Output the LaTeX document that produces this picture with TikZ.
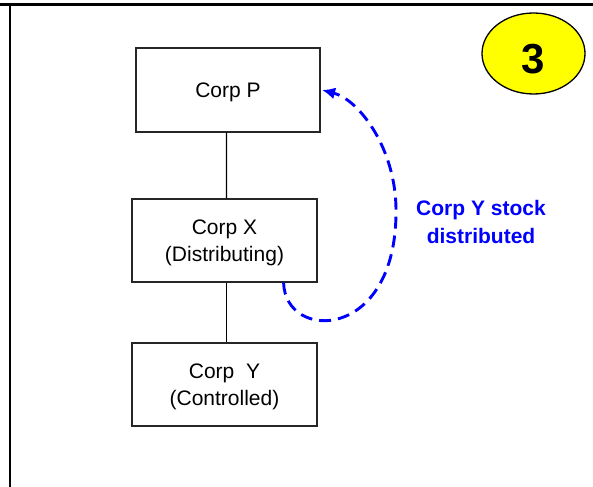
\documentclass[tikz,border=0pt]{standalone}
\usepackage{fontspec}
\setmainfont{Liberation Sans}
\usetikzlibrary{arrows.meta,shapes.geometric}
\definecolor{arrowblue}{RGB}{0,0,255}
\definecolor{badgeyellow}{RGB}{255,255,0}
\tikzset{
  corpbox/.style={draw=black!85, line width=1.2bp, inner sep=0pt, align=center,
    text depth=0pt, font=\fontsize{21bp}{26.5bp}\selectfont},
  link/.style={draw=black, line width=1.1bp},
  flow/.style={draw=arrowblue, line width=2.9bp, dash pattern=on 12bp off 7bp,
    -{Latex[length=13bp,width=12bp]}},
  flowlabel/.style={text=arrowblue, align=center,
    font=\fontsize{21bp}{27.5bp}\selectfont\bfseries},
  frame/.style={draw=black, line width=2.4bp},
  badge/.style={ellipse, draw=black, line width=1.3bp, fill=badgeyellow,
    minimum width=103bp, minimum height=81bp, inner sep=0pt},
  badgenum/.style={font=\fontsize{42bp}{42bp}\selectfont\bfseries, inner sep=0pt}
}
\begin{document}
\begin{tikzpicture}[x=1bp,y=-1bp]
\useasboundingbox (0,0) rectangle (593,487);
% frame
\coordinate (ftl) at (0,4.5);
\coordinate (ftr) at (593,4.5);
\coordinate (fl) at (10,4.5);
\coordinate (fb) at (10,487);
\draw[frame] (ftl) -- (ftr);
\draw[frame] (fl) -- (fb);
% boxes
\node[corpbox, minimum width=184bp, minimum height=84bp] (P) at (228,90) {Corp P};
\node[corpbox, minimum width=185bp, minimum height=83bp] (X) at (224.5,240.5) {Corp X\\(Distributing)};
\node[corpbox, minimum width=185bp, minimum height=83bp] (Y) at (224.5,384.5) {Corp~ Y\\(Controlled)};
% connectors
\draw[link] ([xshift=-1.5bp]P.south) -- ([xshift=2bp]X.north);
\draw[link] ([xshift=2bp]X.south) -- ([xshift=2bp]Y.north);
% dashed arrow
\coordinate (dstart) at ([xshift=-34bp]X.south east);
\coordinate (dright) at (396,210);
\draw[flow] (dstart) .. controls (285,342) and (397,342) .. (dright)
  .. controls (396,150) and (360,100) .. ([xshift=1.5bp]P.east);
\node[flowlabel] (lbl) at (481,222) {Corp Y stock\\distributed};
% badge
\node[badge] (badge) at (533.5,53.5) {};
\node[badgenum] (num) at ([yshift=-6bp]badge.center) {3};
\end{tikzpicture}
\end{document}
